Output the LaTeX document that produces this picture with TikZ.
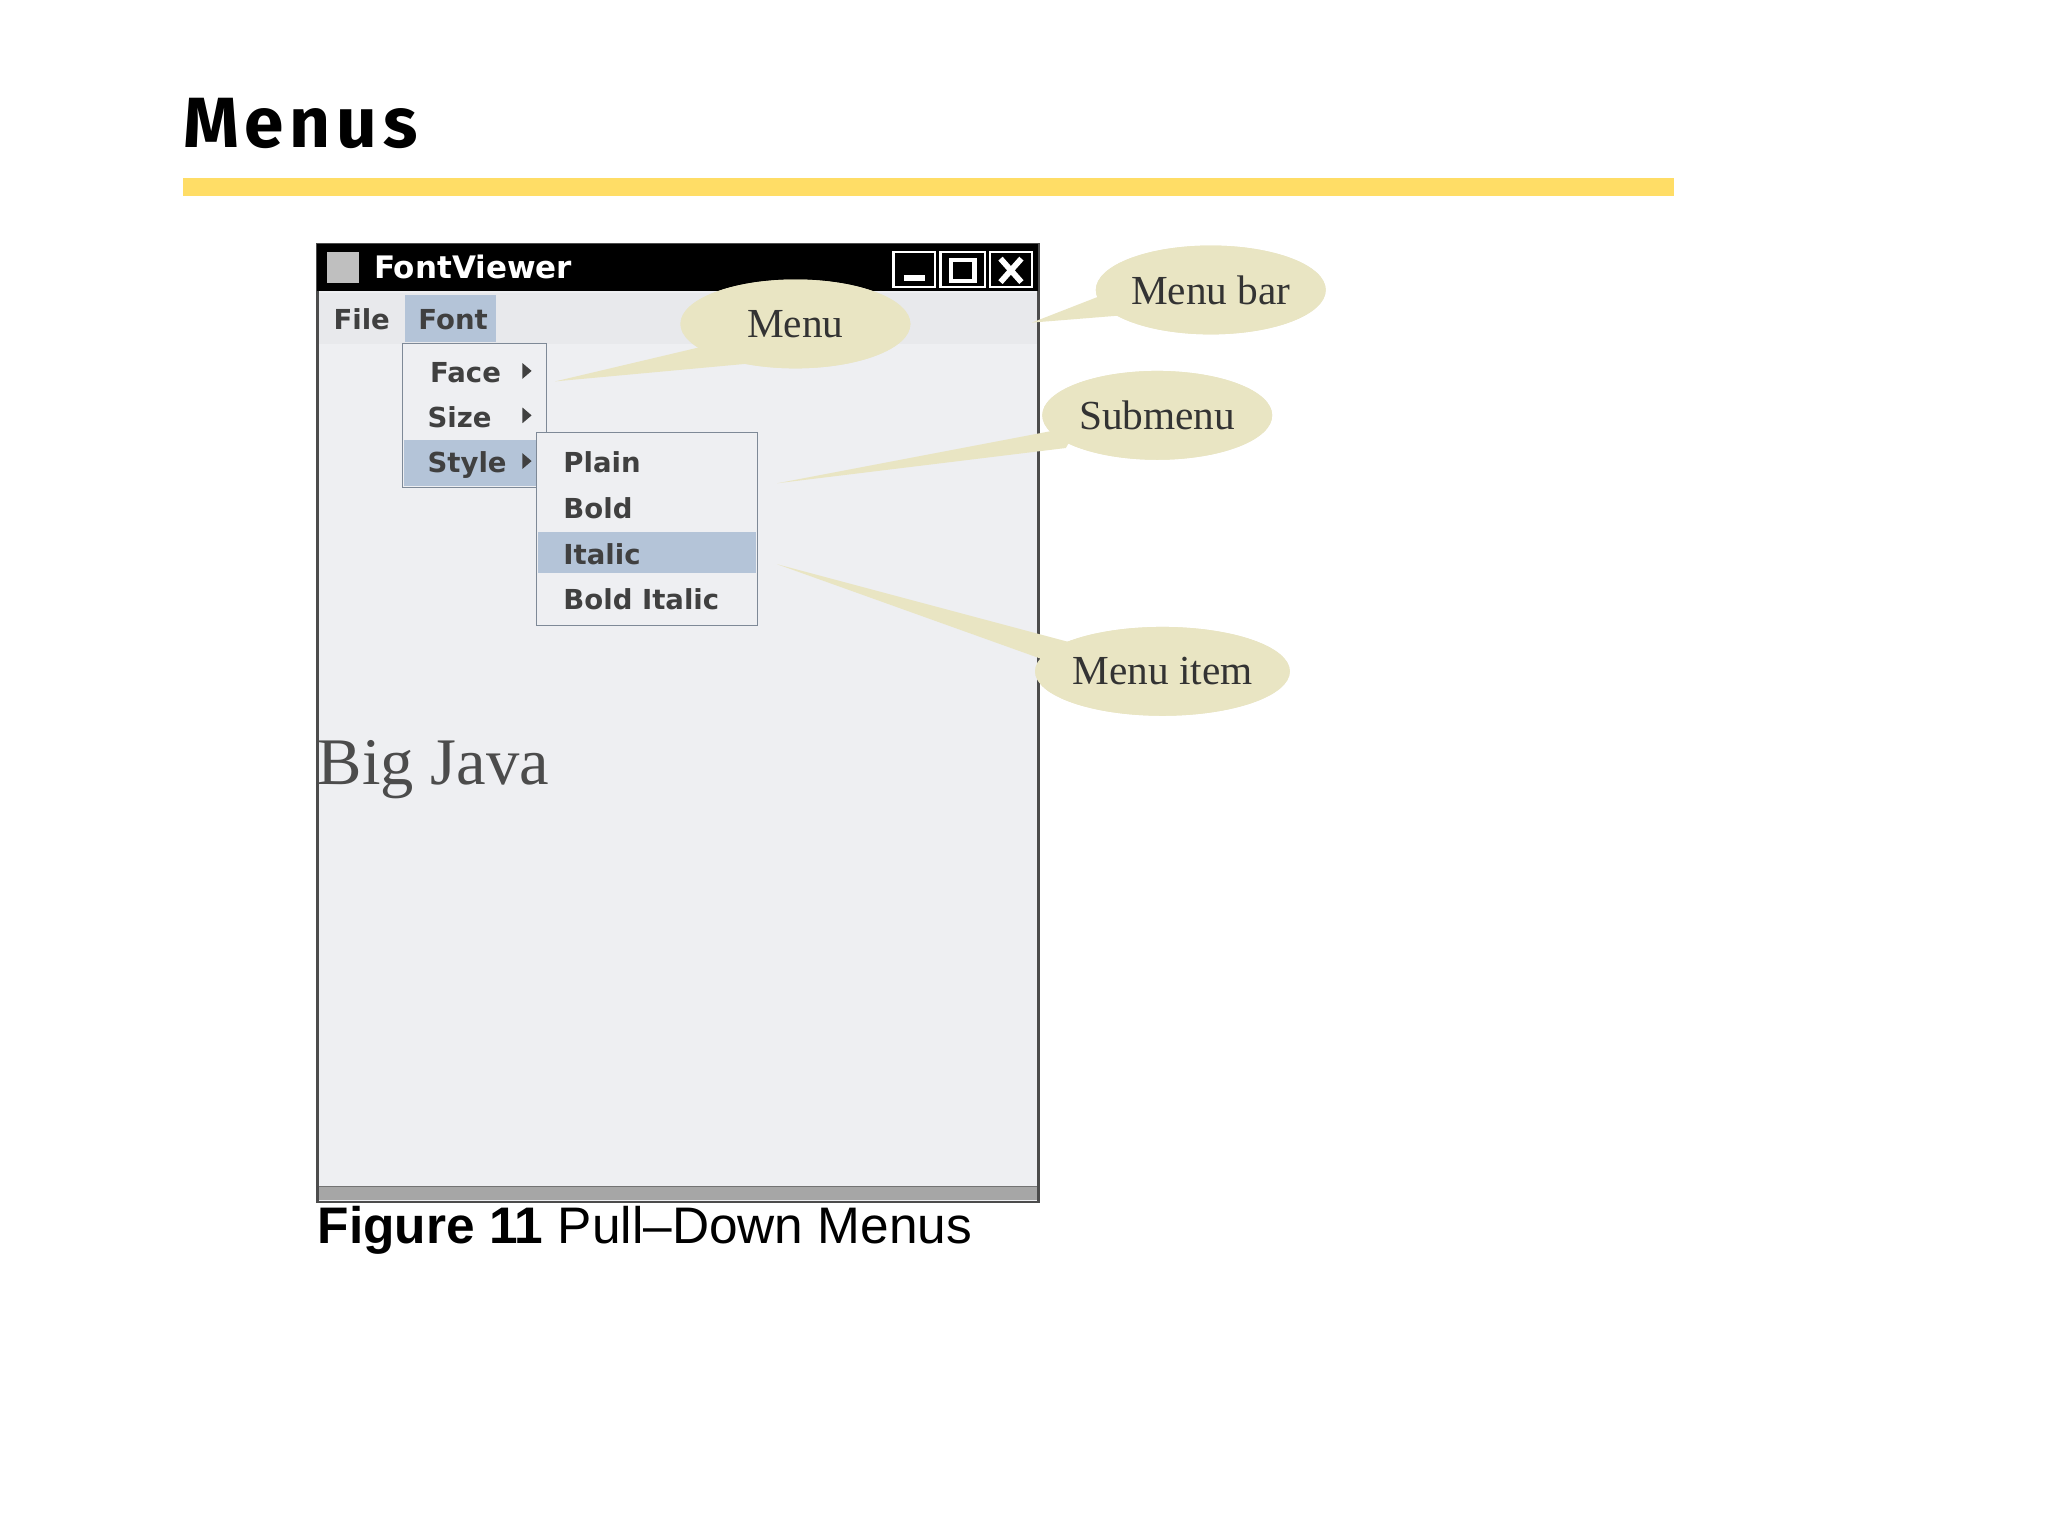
\documentclass[tikz,border=0pt]{standalone}
\usepackage{fontspec}
\setmainfont{Liberation Serif}
\setsansfont{Liberation Sans}
\newfontfamily\titlefont[LetterSpace=8]{Fira Sans}
\newfontfamily\guifont{DejaVu Sans}
\usetikzlibrary{calc,shapes.geometric}
\definecolor{barY}{HTML}{FFDD66}
\definecolor{cream}{HTML}{E9E5C3}
\definecolor{winbg}{HTML}{EEEFF2}
\definecolor{hl}{HTML}{B4C4D8}
\definecolor{menubg}{HTML}{E8E9EC}
\tikzset{
 gui/.style={font=\guifont\bfseries\fontsize{12}{14}\selectfont, text=black!75, anchor=base west, inner sep=0},
 bubble/.style={ellipse, fill=cream, minimum width=176*0.02cm, minimum height=68*0.02cm, inner sep=0, font=\fontsize{18}{20}\selectfont, text=black!80},
}
\begin{document}
\begin{tikzpicture}[x=0.02cm,y=-0.02cm]
\useasboundingbox (0,0) rectangle (1568,1176);
\fill[white] (0,0) rectangle (1568,1176);
% title
\node[anchor=base west, inner sep=0, font=\titlefont\bfseries\fontsize{31}{34}\selectfont] (title) at (140,113) {Menus};
\fill[barY] (140,136) rectangle (1282,150);
% window
\draw[fill=winbg, draw=black!70, line width=1pt] (243,187) rectangle (795,920);
\fill[black] (243,187) rectangle (795,223);
\fill[black!25] (250,193) rectangle (275,217);
\node[anchor=base west, inner sep=0, text=white, font=\guifont\bfseries\fontsize{13.5}{16}\selectfont] (wt) at (286,213) {FontViewer};
\draw[white, line width=1pt] (684,193) rectangle (716,220) (720,193) rectangle (754,220) (758,193) rectangle (790,220);
\draw[white, line width=2.5pt] (692,213)--(708,213);
\draw[white, line width=2pt] (728,199) rectangle (746,215);
\draw[white, line width=2.5pt] (766,198)--(782,216) (782,198)--(766,216);
\fill[menubg] (244,224) rectangle (794,263);
\fill[hl] (310,226) rectangle (380,262);
\node[gui] (file) at (255,252) {File};
\node[gui] (font) at (320,252) {Font};
% menu
\draw[fill=winbg, draw=hl!70!black] (308,263) rectangle (418,373);
\fill[hl] (309,337) rectangle (417,372);
\node[gui] (face) at (329,293) {Face};
\node[gui] (size) at (327,327) {Size};
\node[gui] (style) at (327,362) {Style};
\foreach \y in {284,318,353} \fill[black!75] (400,\y-6) -- (407,\y) -- (400,\y+6) -- cycle;
% submenu
\draw[fill=winbg, draw=hl!70!black] (411,331) rectangle (580,479);
\fill[hl] (412,407) rectangle (579,439);
\node[gui] (plain) at (431,362) {Plain};
\node[gui] (bold) at (431,397) {Bold};
\node[gui] (italic) at (431,432) {Italic};
\node[gui] (bolditalic) at (431,467) {Bold Italic};
% Big Java
\node[anchor=base west, inner sep=0, text=black!70, font=\fontsize{29}{32}\selectfont] (bj) at (243,601) {Big Java};
% bottom bar
\fill[black!35] (244,908) rectangle (794,919);
\draw[black!55] (244,908)--(794,908);
% callouts
\node[bubble] (menu) at (609,248) {Menu};
\node[bubble] (mbar) at (927,222) {Menu bar};
\node[bubble] (sub) at (886,318) {Submenu};
\node[bubble] (mitem) at (890,514) {Menu item};
\coordinate (tm) at (425,292);
\coordinate (tb) at (790,247);
\coordinate (ts) at (595,370);
\coordinate (ti) at (595,432);
\fill[cream] (tm) -- ($(menu.center)+(-40,10)$) -- ($(menu.center)+(-10,28)$) -- cycle;
\fill[cream] (tb) -- ($(mbar.center)+(-60,-5)$) -- ($(mbar.center)+(-50,18)$) -- cycle;
\fill[cream] (ts) -- ($(sub.center)+(-60,8)$) -- ($(sub.center)+(-70,25)$) -- cycle;
\fill[cream] (ti) -- ($(mitem.center)+(-70,-22)$) -- ($(mitem.center)+(-80,-5)$) -- cycle;
\node[bubble] at (menu) {Menu};
\node[bubble] at (mbar) {Menu bar};
\node[bubble] at (sub) {Submenu};
\node[bubble] at (mitem) {Menu item};
% caption
\node[anchor=base west, inner sep=0, font=\sffamily\fontsize{22.4}{24}\selectfont] (cap) at (243,952) {\textbf{Figure 11} Pull–Down Menus};
\end{tikzpicture}
\end{document}
